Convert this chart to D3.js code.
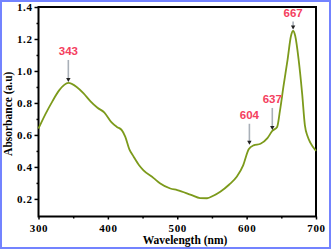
<!DOCTYPE html>
<html>
<head>
<meta charset="utf-8">
<script src="https://cdn.jsdelivr.net/npm/d3@7"></script>
<style>
  body { margin: 0; background: #fff; }
  svg { display: block; }
</style>
</head>
<body>
<script>
// size of the whole picture
var w = 331;
var h = 249;

// plot area edges in pixels
var plotLeft = 38.5, plotRight = 316, plotTop = 7, plotBottom = 216.5;

// spectrum
var wavelength = [300, 310, 320, 330, 343, 355, 365, 375, 385, 395, 405, 413, 420, 425,
                  431, 437, 445, 451, 466, 475, 490, 500, 520, 533, 543, 552, 562, 575,
                  586, 595, 603, 610, 620, 630, 637, 644, 648, 653, 659, 664, 667, 670,
                  675, 680, 684, 688, 692, 700];
var absorbance = [0.64, 0.73, 0.81, 0.88, 0.925, 0.90, 0.86, 0.81, 0.77, 0.74, 0.68, 0.65, 0.63, 0.59,
                  0.51, 0.465, 0.41, 0.38, 0.33, 0.298, 0.265, 0.255, 0.225, 0.205, 0.204, 0.22, 0.245, 0.29,
                  0.34, 0.41, 0.51, 0.535, 0.545, 0.58, 0.625, 0.65, 0.75, 0.90, 1.07, 1.22, 1.25, 1.22,
                  1.07, 0.86, 0.66, 0.59, 0.55, 0.50];

// marked peaks
var peaks = [343, 604, 637, 667];
var peakLabels = ["343", "604", "637", "667"];

// tick values
var xTicks = [300, 400, 500, 600, 700];
var xMinor = [350, 450, 550, 650];
var yTicks = [0.2, 0.4, 0.6, 0.8, 1.0, 1.2, 1.4];
var yMinor = [0.3, 0.5, 0.7, 0.9, 1.1, 1.3];

var svg = d3.select("body")
            .append("svg")
            .attr("width", w)
            .attr("height", h);

var x = d3.scaleLinear().domain([300, 700]).range([plotLeft, plotRight]);
var y = d3.scaleLinear().domain([0.09, 1.4]).range([plotBottom, plotTop]);

// blue frame round the picture
svg.append("rect")
   .attr("x", 1).attr("y", 1)
   .attr("width", w - 2).attr("height", h - 2)
   .attr("fill", "none")
   .attr("stroke", "#7383ff")
   .attr("stroke-width", 2);

// axes
var fontTick = "'Liberation Serif', 'Times New Roman', serif";

svg.append("g")
   .attr("transform", "translate(0," + plotBottom + ")")
   .call(d3.axisBottom(x).tickValues(xTicks).tickSize(3).tickPadding(5)
           .tickFormat(d3.format("d")));

svg.append("g")
   .attr("transform", "translate(0," + plotBottom + ")")
   .call(d3.axisBottom(x).tickValues(xMinor).tickSize(2).tickFormat(""));

var yAxis = svg.append("g")
   .attr("transform", "translate(" + plotLeft + ",0)")
   .call(d3.axisLeft(y).tickValues(yTicks).tickSize(4).tickPadding(2)
           .tickFormat(d3.format(".1f")));

svg.append("g")
   .attr("transform", "translate(" + plotLeft + ",0)")
   .call(d3.axisLeft(y).tickValues(yMinor).tickSize(2).tickFormat(""));

svg.selectAll(".tick line").attr("stroke", "#000").attr("stroke-width", 1.5);
svg.selectAll(".domain").remove();
svg.selectAll(".tick text")
   .attr("font-family", fontTick)
   .attr("font-weight", "bold")
   .attr("font-size", "11px")
   .attr("letter-spacing", "0.6px")
   .attr("fill", "#000");
yAxis.selectAll(".tick text").attr("dy", "0.36em");

// black frame of the plot
svg.append("rect")
   .attr("x", plotLeft).attr("y", plotTop)
   .attr("width", plotRight - plotLeft).attr("height", plotBottom - plotTop)
   .attr("fill", "none")
   .attr("stroke", "#000")
   .attr("stroke-width", 2);

// axis titles
svg.append("text")
   .attr("x", 185).attr("y", 243.5)
   .attr("text-anchor", "middle")
   .attr("font-family", fontTick)
   .attr("font-weight", "bold")
   .attr("font-size", "11.5px")
   .text("Wavelength (nm)");

svg.append("text")
   .attr("transform", "translate(12," + ((plotTop + plotBottom) / 2 + 2) + ") rotate(-90)")
   .attr("text-anchor", "middle")
   .attr("font-family", fontTick)
   .attr("font-weight", "bold")
   .attr("font-size", "11.5px")
   .text("Absorbance (a.u)");

// the spectrum
var data = wavelength.map(function(d, i) { return {wl: d, a: absorbance[i]}; });

var line = d3.line()
             .x(function(d) { return x(d.wl); })
             .y(function(d) { return y(d.a); })
             .curve(d3.curveMonotoneX);

svg.append("path")
   .datum(data)
   .attr("fill", "none")
   .attr("stroke", "#7c9a1b")
   .attr("stroke-width", 1.8)
   .attr("stroke-linejoin", "round")
   .attr("d", line);

// value of the spectrum at a wavelength, linear between read points
function valueAt(wl) {
  var i = d3.bisectLeft(wavelength, wl);
  if (i <= 0) return absorbance[0];
  var t = (wl - wavelength[i - 1]) / (wavelength[i] - wavelength[i - 1]);
  return absorbance[i - 1] + t * (absorbance[i] - absorbance[i - 1]);
}

// arrows and labels over the peaks
var arrowLen = [22, 21, 22, 8];
var tipGap = [1, 4, 1, 1.5];

var ann = svg.append("g")
   .selectAll("g")
   .data(peaks)
   .enter().append("g");

ann.each(function(d, i) {
  var g = d3.select(this);
  var px = x(d);
  var tip = y(valueAt(d)) - tipGap[i];
  var topY = tip - arrowLen[i];

  g.append("line")
   .attr("x1", px).attr("x2", px)
   .attr("y1", topY).attr("y2", tip - 3)
   .attr("stroke", "#a9b0b8")
   .attr("stroke-width", 1.6);

  g.append("path")
   .attr("d", "M" + (px - 2.2) + "," + (tip - 4) + "L" + (px + 2.2) + "," + (tip - 4) + "L" + px + "," + tip + "Z")
   .attr("fill", "#222");

  g.append("text")
   .attr("x", px)
   .attr("y", topY - 4.5)
   .attr("text-anchor", "middle")
   .attr("font-family", "'Liberation Sans', Arial, sans-serif")
   .attr("font-weight", "bold")
   .attr("font-size", "11.5px")
   .attr("fill", "#f4405e")
   .text(peakLabels[i]);
});
</script>
</body>
</html>
